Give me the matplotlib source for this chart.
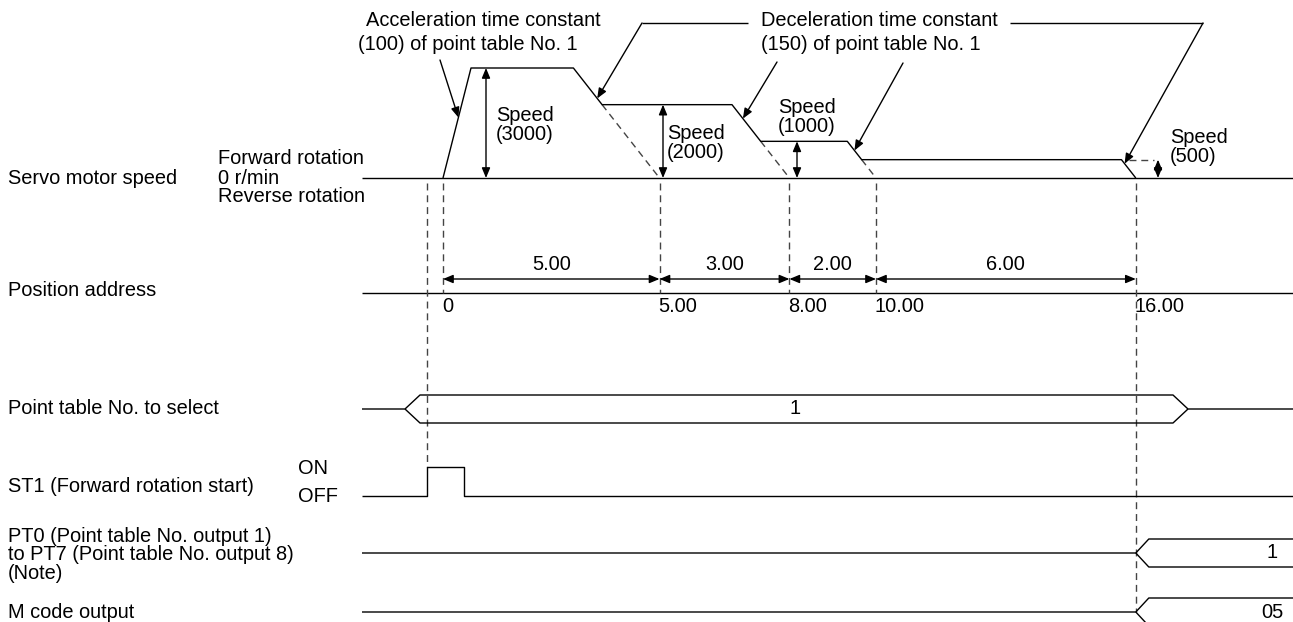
import matplotlib.pyplot as plt

plt.rcParams['font.family'] = ['Liberation Sans', 'DejaVu Sans']

# ---- chart data ----
positions = [0, 5.00, 8.00, 10.00, 16.00]          # position address at each point
position_labels = ['0', '5.00', '8.00', '10.00', '16.00']
segment_labels = ['5.00', '3.00', '2.00', '6.00']   # travel per step
speeds = [3000, 2000, 1000, 500]                    # r/min per step
speed_labels = ['Speed\n(3000)', 'Speed\n(2000)', 'Speed\n(1000)', 'Speed\n(500)']
accel_text = ['Acceleration time constant', '(100) of point table No. 1']
decel_text = ['Deceleration time constant', '(150) of point table No. 1']
point_table_no = '1'
pt_output = '1'
m_code = '05'

row_labels = ['Servo motor speed', 'Position address', 'Point table No. to select',
              'ST1 (Forward rotation start)',
              'PT0 (Point table No. output 1)\nto PT7 (Point table No. output 8)\n(Note)',
              'M code output']

# ---- layout (pixels) ----
W, H = 1293, 622
X0, PX_UNIT = 443, 43.3          # position 0 and pixels per position unit
ACC = 28.0 / 3000                # accel ramp width per r/min
DEC = 28.7 / 1000                # decel ramp width per r/min
Y_ZERO, PX_RPM = 178, 110.0 / 3000
Y_POS, Y_SEL, Y_ST1, Y_PT, Y_M = 293, 409, 496, 553, 612
LX = 362                         # where the signal lines begin
FS = 14.4
DASH = dict(color='#444444', lw=1.0, dashes=(5, 3.5))
SOLID = dict(color='black', lw=1.0, solid_capstyle='butt')
HEAD = dict(arrowstyle='-|>,head_length=0.6,head_width=0.25', color='black',
            lw=1.0, mutation_scale=10, shrinkA=0, shrinkB=0)
HEAD2 = dict(HEAD, arrowstyle='<|-|>,head_length=0.6,head_width=0.25')


def X(p):
    return X0 + PX_UNIT * p


def Y(v):
    return Y_ZERO - PX_RPM * v


fig = plt.figure(figsize=(W / 100, H / 100), dpi=100)
ax = fig.add_axes([0, 0, 1, 1])
ax.set_xlim(0, W)
ax.set_ylim(H, 0)
ax.axis('off')

# ---- left labels ----
row_y = [Y_ZERO, 290, Y_SEL, 487, 555, Y_M]
for lab, y in zip(row_labels, row_y):
    ax.text(8, y, lab, fontsize=FS, va='center', ha='left', linespacing=0.95)
ax.text(218, 158, 'Forward rotation', fontsize=FS, va='center')
ax.text(218, 178, '0 r/min', fontsize=FS, va='center')
ax.text(218, 197, 'Reverse rotation', fontsize=FS, va='center')
ax.text(298, 469, 'ON', fontsize=FS, va='center')
ax.text(298, 497, 'OFF', fontsize=FS, va='center')

# ---- servo motor speed ----
ax.plot([LX, W], [Y_ZERO, Y_ZERO], **SOLID)
xs = [X(positions[0]), X(positions[0]) + speeds[0] * ACC]
ys = [Y(0), Y(speeds[0])]
ramps = []
nxt = speeds[1:] + [0]
for i, v in enumerate(speeds):
    xe = X(positions[i + 1])
    r0 = (xe - v * DEC, Y(v))
    r1 = (xe - nxt[i] * DEC, Y(nxt[i]))
    xs += [r0[0], r1[0]]
    ys += [r0[1], r1[1]]
    ramps.append((r0, r1))
    if nxt[i] > 0:
        ax.plot([r1[0], xe], [r1[1], Y(0)], **DASH)
ax.plot(xs, ys, **SOLID)

# speed arrows and labels
arrow_x = [486, 663, 797, 1158]
label_xy = [(496, 125), (667, 143), (778, 117), (1170, 147)]
for v, ax_x, lab, (lx, ly) in zip(speeds, arrow_x, speed_labels, label_xy):
    ax.annotate('', xy=(ax_x, Y(0)), xytext=(ax_x, Y(v)), arrowprops=HEAD2)
    ax.text(lx, ly, lab, fontsize=FS, va='center', ha='left', linespacing=1.05)
ax.plot([ramps[-1][0][0] + 8, arrow_x[-1] - 4], [Y(speeds[-1])] * 2, **DASH)

# time-constant callouts
ax.text(366, 20, accel_text[0], fontsize=FS, va='center')
ax.text(358, 44, accel_text[1], fontsize=FS, va='center')
ax.text(761, 20, decel_text[0], fontsize=FS, va='center')
ax.text(761, 44, decel_text[1], fontsize=FS, va='center')

acc0, acc1 = (xs[0], ys[0]), (xs[1], ys[1])
f = 0.55
tip = (acc0[0] + f * (acc1[0] - acc0[0]), acc0[1] + f * (acc1[1] - acc0[1]))
ax.annotate('', xy=tip, xytext=(440, 60), arrowprops=HEAD)

fracs = [0.83, 0.38, 0.5, 0.22]
tails = [[(748, 23), (642, 23)], [(777, 62)], [(903, 63)], [(1010, 23), (1203, 23)]]
for (r0, r1), fr, tail in zip(ramps, fracs, tails):
    tip = (r0[0] + fr * (r1[0] - r0[0]), r0[1] + fr * (r1[1] - r0[1]))
    if len(tail) > 1:
        ax.plot([p[0] for p in tail], [p[1] for p in tail], **SOLID)
    ax.annotate('', xy=tip, xytext=tail[-1], arrowprops=HEAD)

# ---- position address ----
ax.plot([LX, W], [Y_POS, Y_POS], **SOLID)
for p, lab in zip(positions, position_labels):
    ax.text(X(p) - 1, 306, lab, fontsize=FS, va='center', ha='left')
for i, lab in enumerate(segment_labels):
    a, b = X(positions[i]), X(positions[i + 1])
    ax.annotate('', xy=(a, 279), xytext=(b, 279), arrowprops=HEAD2)
    ax.text((a + b) / 2, 265, lab, fontsize=FS, va='center', ha='center')

# dashed guide lines
for p in positions[:-1]:
    ax.plot([X(p), X(p)], [183, Y_POS], **DASH)
ax.plot([X(positions[-1])] * 2, [183, Y_M], **DASH)
st1_on, st1_off = 427, 464
ax.plot([st1_on, st1_on], [183, 467], **DASH)

# ---- point table No. to select ----
h = 14
ax.plot([LX, 405, 420, 1173, 1188, W], [Y_SEL, Y_SEL, Y_SEL - h, Y_SEL - h, Y_SEL, Y_SEL], **SOLID)
ax.plot([405, 420, 1173, 1188], [Y_SEL, Y_SEL + h, Y_SEL + h, Y_SEL], **SOLID)
ax.text(795, Y_SEL, point_table_no, fontsize=FS, va='center', ha='center')

# ---- ST1 ----
ax.plot([LX, st1_on, st1_on, st1_off, st1_off, W],
        [Y_ST1, Y_ST1, 467, 467, Y_ST1, Y_ST1], **SOLID)

# ---- PT0-PT7 and M code ----
xv = X(positions[-1])
for y, lab in [(Y_PT, pt_output), (Y_M, m_code)]:
    ax.plot([LX, xv, xv + 13, W], [y, y, y - h, y - h], **SOLID)
    ax.plot([xv, xv + 13, W], [y, y + h, y + h], **SOLID)
    ax.text(1272, y, lab, fontsize=FS, va='center', ha='center')

fig.savefig('out.png', dpi=100)
